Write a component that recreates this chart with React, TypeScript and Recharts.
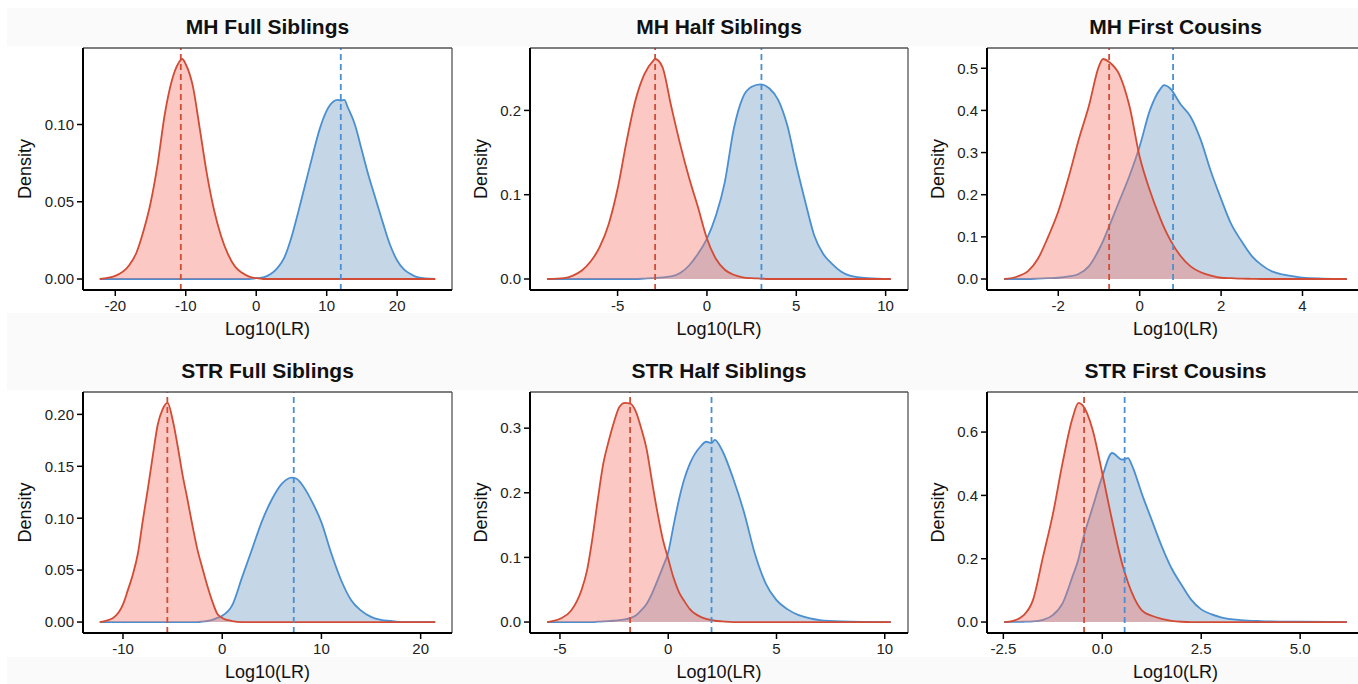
import { AreaChart, Area, XAxis, YAxis, ReferenceLine } from "recharts"

// ---- data ----

// MH Full Siblings
const mhFullX = [-22.2, -20, -18, -17, -16, -15, -14, -13, -12, -11, -10.5, -10, -9, -8, -7, -6, -5, -4, -3, -2, -1, 0, 1, 2, 3, 4, 5, 6, 7, 8, 9, 10, 11, 11.5, 12, 12.5, 13, 14, 15, 16, 17, 18, 19, 20, 21, 22, 23, 25.4]
const mhFullRed = [0, 0.002, 0.009, 0.017, 0.031, 0.049, 0.074, 0.106, 0.128, 0.14, 0.1424, 0.139, 0.125, 0.097, 0.068, 0.045, 0.028, 0.016, 0.008, 0.004, 0.0015, 0.0005, 0, 0, 0, 0, 0, 0, 0, 0, 0, 0, 0, 0, 0, 0, 0, 0, 0, 0, 0, 0, 0, 0, 0, 0, 0, 0]
const mhFullBlue = [0, 0, 0, 0, 0, 0, 0, 0, 0, 0, 0, 0, 0, 0, 0, 0, 0, 0, 0, 0, 0, 0.0005, 0.001, 0.003, 0.007, 0.014, 0.027, 0.044, 0.062, 0.08, 0.097, 0.109, 0.115, 0.116, 0.1155, 0.116, 0.111, 0.1, 0.083, 0.066, 0.051, 0.036, 0.022, 0.012, 0.006, 0.003, 0.001, 0]
const mhFullMeans = [-10.7, 12.0]
const mhFullXTicks = [-20, -10, 0, 10, 20]
const mhFullYTicks = [0, 0.05, 0.1]

// MH Half Siblings
const mhHalfX = [-8.94, -8, -7.5, -7, -6.5, -6, -5.5, -5, -4.5, -4, -3.5, -3, -2.9, -2.5, -2, -1.5, -1, -0.5, 0, 0.5, 1, 1.5, 2, 2.5, 3, 3.5, 4, 4.5, 5, 5.5, 6, 6.5, 7, 7.5, 8, 9, 10.29]
const mhHalfRed = [0, 0.001, 0.004, 0.01, 0.021, 0.038, 0.065, 0.107, 0.163, 0.212, 0.243, 0.259, 0.261, 0.252, 0.205, 0.16, 0.12, 0.085, 0.048, 0.024, 0.011, 0.005, 0.002, 0.001, 0.0005, 0, 0, 0, 0, 0, 0, 0, 0, 0, 0, 0, 0]
const mhHalfBlue = [0, 0, 0, 0, 0, 0, 0, 0, 0, 0, 0.0005, 0.001, 0.001, 0.002, 0.003, 0.007, 0.016, 0.03, 0.048, 0.075, 0.115, 0.178, 0.215, 0.228, 0.231, 0.226, 0.212, 0.182, 0.135, 0.092, 0.052, 0.03, 0.018, 0.009, 0.004, 0.001, 0]
const mhHalfMeans = [-2.9, 3.05]
const mhHalfXTicks = [-5, 0, 5, 10]
const mhHalfYTicks = [0, 0.1, 0.2]

// MH First Cousins
const mhCousX = [-3.33, -3, -2.75, -2.5, -2.25, -2, -1.75, -1.5, -1.25, -1, -0.9, -0.75, -0.5, -0.25, 0, 0.25, 0.5, 0.6, 0.75, 1, 1.25, 1.5, 1.75, 2, 2.25, 2.5, 2.75, 3, 3.25, 3.5, 3.75, 4, 4.5, 5.09]
const mhCousRed = [0, 0.006, 0.018, 0.048, 0.1, 0.16, 0.24, 0.33, 0.41, 0.505, 0.522, 0.515, 0.485, 0.41, 0.29, 0.21, 0.145, 0.122, 0.093, 0.055, 0.03, 0.016, 0.008, 0.003, 0.002, 0.001, 0.0005, 0, 0, 0, 0, 0, 0, 0]
const mhCousBlue = [0, 0, 0, 0.001, 0.002, 0.003, 0.006, 0.012, 0.03, 0.07, 0.09, 0.125, 0.185, 0.245, 0.315, 0.4, 0.45, 0.46, 0.452, 0.415, 0.385, 0.33, 0.255, 0.19, 0.13, 0.09, 0.055, 0.033, 0.018, 0.011, 0.007, 0.003, 0.001, 0]
const mhCousMeans = [-0.75, 0.82]
const mhCousXTicks = [-2, 0, 2, 4]
const mhCousYTicks = [0, 0.1, 0.2, 0.3, 0.4, 0.5]

// STR Full Siblings
const strFullX = [-12.34, -11, -10, -9.5, -9, -8.5, -8, -7.5, -7, -6.5, -6, -5.5, -5, -4.5, -4, -3.5, -3, -2.5, -2, -1.5, -1, -0.5, 0, 1, 2, 3, 4, 5, 6, 7, 7.5, 8, 9, 10, 11, 12, 13, 14, 15, 16, 17, 18, 21.47]
const strFullRed = [0, 0.004, 0.017, 0.031, 0.046, 0.066, 0.098, 0.128, 0.16, 0.19, 0.205, 0.211, 0.195, 0.17, 0.142, 0.118, 0.093, 0.07, 0.052, 0.035, 0.02, 0.008, 0.004, 0.001, 0, 0, 0, 0, 0, 0, 0, 0, 0, 0, 0, 0, 0, 0, 0, 0, 0, 0, 0]
const strFullBlue = [0, 0, 0, 0, 0, 0, 0, 0, 0, 0, 0, 0, 0, 0, 0, 0, 0, 0, 0.0005, 0.001, 0.002, 0.004, 0.006, 0.016, 0.043, 0.07, 0.097, 0.118, 0.133, 0.139, 0.138, 0.133, 0.117, 0.096, 0.066, 0.04, 0.021, 0.011, 0.005, 0.002, 0.001, 0, 0]
const strFullMeans = [-5.53, 7.21]
const strFullXTicks = [-10, 0, 10, 20]
const strFullYTicks = [0, 0.05, 0.1, 0.15, 0.2]

// STR Half Siblings
const strHalfX = [-5.59, -5, -4.5, -4, -3.75, -3.5, -3.25, -3, -2.75, -2.5, -2.25, -2, -1.75, -1.5, -1.25, -1, -0.75, -0.5, -0.25, 0, 0.25, 0.5, 0.75, 1, 1.5, 1.75, 2, 2.15, 2.5, 3, 3.5, 4, 4.5, 5, 5.5, 6, 6.5, 7, 8, 10.28]
const strHalfRed = [0, 0.005, 0.017, 0.05, 0.08, 0.13, 0.19, 0.245, 0.28, 0.31, 0.333, 0.339, 0.338, 0.326, 0.3, 0.268, 0.218, 0.17, 0.128, 0.098, 0.068, 0.046, 0.032, 0.02, 0.008, 0.005, 0.003, 0.002, 0.001, 0, 0, 0, 0, 0, 0, 0, 0, 0, 0, 0]
const strHalfBlue = [0, 0, 0, 0, 0, 0, 0.0005, 0.001, 0.0015, 0.002, 0.003, 0.004, 0.006, 0.01, 0.018, 0.028, 0.044, 0.064, 0.085, 0.108, 0.15, 0.19, 0.222, 0.245, 0.272, 0.279, 0.277, 0.282, 0.265, 0.222, 0.17, 0.106, 0.06, 0.034, 0.02, 0.011, 0.006, 0.003, 0.001, 0]
const strHalfMeans = [-1.76, 2.0]
const strHalfXTicks = [-5, 0, 5, 10]
const strHalfYTicks = [0, 0.1, 0.2, 0.3]

// STR First Cousins
const strCousX = [-2.48, -2.25, -2, -1.75, -1.5, -1.25, -1, -0.75, -0.6, -0.5, -0.25, 0, 0.25, 0.5, 0.65, 0.75, 1, 1.25, 1.5, 1.75, 2, 2.25, 2.5, 2.75, 3, 3.5, 4, 5, 6.18]
const strCousRed = [0, 0.004, 0.02, 0.07, 0.205, 0.34, 0.505, 0.645, 0.692, 0.685, 0.61, 0.47, 0.32, 0.185, 0.125, 0.092, 0.037, 0.02, 0.01, 0.004, 0.001, 0, 0, 0, 0, 0, 0, 0, 0]
const strCousBlue = [0, 0.0005, 0.001, 0.002, 0.007, 0.022, 0.06, 0.145, 0.2, 0.255, 0.36, 0.46, 0.534, 0.513, 0.518, 0.495, 0.405, 0.322, 0.24, 0.17, 0.118, 0.07, 0.04, 0.025, 0.015, 0.006, 0.003, 0.001, 0]
const strCousMeans = [-0.46, 0.565]
const strCousXTicks = [-2.5, 0, 2.5, 5]
const strCousYTicks = [0, 0.2, 0.4, 0.6]

// ---- styling / layout ----

const FONT = "'Liberation Sans', Arial, Helvetica, sans-serif"
const RED_LINE = "#D24B34"
const RED_FILL = "#F4756A"
const BLUE_LINE = "#4A8FD1"
const BLUE_FILL = "#3F76AE"
const Y_W = 80
const X_H = 50

const colLeft = [83, 530, 987]
const colRight = [452, 908, 1364]
const rowTop = [48, 392]
const rowBottom = [290, 633]
const titleTop = [16, 360]

// expand data range by 5% like the original plot
const expand = (lo: number, hi: number): [number, number] => {
  const pad = (hi - lo) * 0.05
  return [lo - pad, hi + pad]
}

type Panel = {
  title: string
  xs: number[]
  red: number[]
  blue: number[]
  means: number[]
  xTicks: number[]
  yTicks: number[]
  yDigits: number
  xDigits: number
}

const panels: Panel[] = [
  { title: "MH Full Siblings", xs: mhFullX, red: mhFullRed, blue: mhFullBlue, means: mhFullMeans, xTicks: mhFullXTicks, yTicks: mhFullYTicks, yDigits: 2, xDigits: 0 },
  { title: "MH Half Siblings", xs: mhHalfX, red: mhHalfRed, blue: mhHalfBlue, means: mhHalfMeans, xTicks: mhHalfXTicks, yTicks: mhHalfYTicks, yDigits: 1, xDigits: 0 },
  { title: "MH First Cousins", xs: mhCousX, red: mhCousRed, blue: mhCousBlue, means: mhCousMeans, xTicks: mhCousXTicks, yTicks: mhCousYTicks, yDigits: 1, xDigits: 0 },
  { title: "STR Full Siblings", xs: strFullX, red: strFullRed, blue: strFullBlue, means: strFullMeans, xTicks: strFullXTicks, yTicks: strFullYTicks, yDigits: 2, xDigits: 0 },
  { title: "STR Half Siblings", xs: strHalfX, red: strHalfRed, blue: strHalfBlue, means: strHalfMeans, xTicks: strHalfXTicks, yTicks: strHalfYTicks, yDigits: 1, xDigits: 0 },
  { title: "STR First Cousins", xs: strCousX, red: strCousRed, blue: strCousBlue, means: strCousMeans, xTicks: strCousXTicks, yTicks: strCousYTicks, yDigits: 1, xDigits: 1 },
]

function DensityPanel({ p, col, row }: { p: Panel; col: number; row: number }) {
  const rows = p.xs.map((x, i) => ({ x, red: p.red[i], blue: p.blue[i] }))
  const xDomain = expand(p.xs[0], p.xs[p.xs.length - 1])
  const yMax = Math.max(...p.red, ...p.blue)
  const yDomain = expand(0, yMax)
  const left = colLeft[col]
  const top = rowTop[row]
  const plotW = colRight[col] - left
  const plotH = rowBottom[row] - top
  const densityOffset = p.yDigits === 2 ? 58 : 49.5

  return (
    <>
      <div
        style={{
          position: "absolute",
          left,
          width: plotW,
          top: titleTop[row],
          textAlign: "center",
          fontFamily: FONT,
          fontWeight: "bold",
          fontSize: 21,
          lineHeight: "21px",
          color: "#111",
          whiteSpace: "nowrap",
        }}
      >
        {p.title}
      </div>
      <div style={{ position: "absolute", left: left - Y_W, top: top - 4 }}>
        <AreaChart
          width={Y_W + plotW + 4}
          height={4 + plotH + X_H}
          data={rows}
          margin={{ top: 4, right: 4, bottom: 0, left: 0 }}
        >
          <XAxis
            dataKey="x"
            type="number"
            domain={xDomain}
            ticks={p.xTicks}
            allowDataOverflow
            height={X_H}
            tickFormatter={(v: number) => v.toFixed(p.xDigits)}
            axisLine={{ stroke: "#000", strokeWidth: 2 }}
            tickLine={{ stroke: "#000", strokeWidth: 1.5 }}
            tickSize={6}
            tickMargin={4}
            tick={{ fill: "#222", fontSize: 15, fontFamily: FONT }}
            label={{ value: "Log10(LR)", position: "insideBottom", offset: 5, style: { fontSize: 18, fontFamily: FONT, fill: "#111" } }}
          />
          <YAxis
            type="number"
            domain={yDomain}
            ticks={p.yTicks}
            allowDataOverflow
            width={Y_W}
            tickFormatter={(v: number) => v.toFixed(p.yDigits)}
            axisLine={{ stroke: "#000", strokeWidth: 2 }}
            tickLine={{ stroke: "#000", strokeWidth: 1.5 }}
            tickSize={6}
            tickMargin={3}
            tick={{ fill: "#222", fontSize: 15, fontFamily: FONT }}
            label={{
              value: "Density",
              angle: -90,
              position: "insideLeft",
              offset: Y_W - densityOffset,
              style: { fontSize: 18, fontFamily: FONT, fill: "#111", textAnchor: "middle" },
            }}
          />
          <Area
            type="monotone"
            dataKey="blue"
            stroke={BLUE_LINE}
            strokeWidth={1.8}
            fill={BLUE_FILL}
            fillOpacity={0.3}
            baseValue={0}
            dot={false}
            activeDot={false}
            isAnimationActive={false}
          />
          <Area
            type="monotone"
            dataKey="red"
            stroke={RED_LINE}
            strokeWidth={1.8}
            fill={RED_FILL}
            fillOpacity={0.4}
            baseValue={0}
            dot={false}
            activeDot={false}
            isAnimationActive={false}
          />
          <ReferenceLine x={p.means[0]} stroke={RED_LINE} strokeWidth={1.8} strokeDasharray="6 4" />
          <ReferenceLine x={p.means[1]} stroke={BLUE_LINE} strokeWidth={1.8} strokeDasharray="6 4" />
          <ReferenceLine y={yDomain[1]} stroke="#555" strokeWidth={1.3} />
          <ReferenceLine x={xDomain[1]} stroke="#555" strokeWidth={1.3} />
        </AreaChart>
      </div>
    </>
  )
}

export default function App() {
  const bands = [
    [8, 46],
    [313, 390],
    [657, 684],
  ]
  return (
    <div
      style={{
        position: "absolute",
        left: 0,
        top: 0,
        width: 1358,
        height: 684,
        overflow: "hidden",
        background: "#fff",
      }}
    >
      {bands.map(([y0, y1]) => (
        <div key={y0} style={{ position: "absolute", left: 7, right: 0, top: y0, height: y1 - y0, background: "#fafafa" }} />
      ))}
      {panels.map((p, i) => (
        <DensityPanel key={p.title} p={p} col={i % 3} row={Math.floor(i / 3)} />
      ))}
    </div>
  )
}
